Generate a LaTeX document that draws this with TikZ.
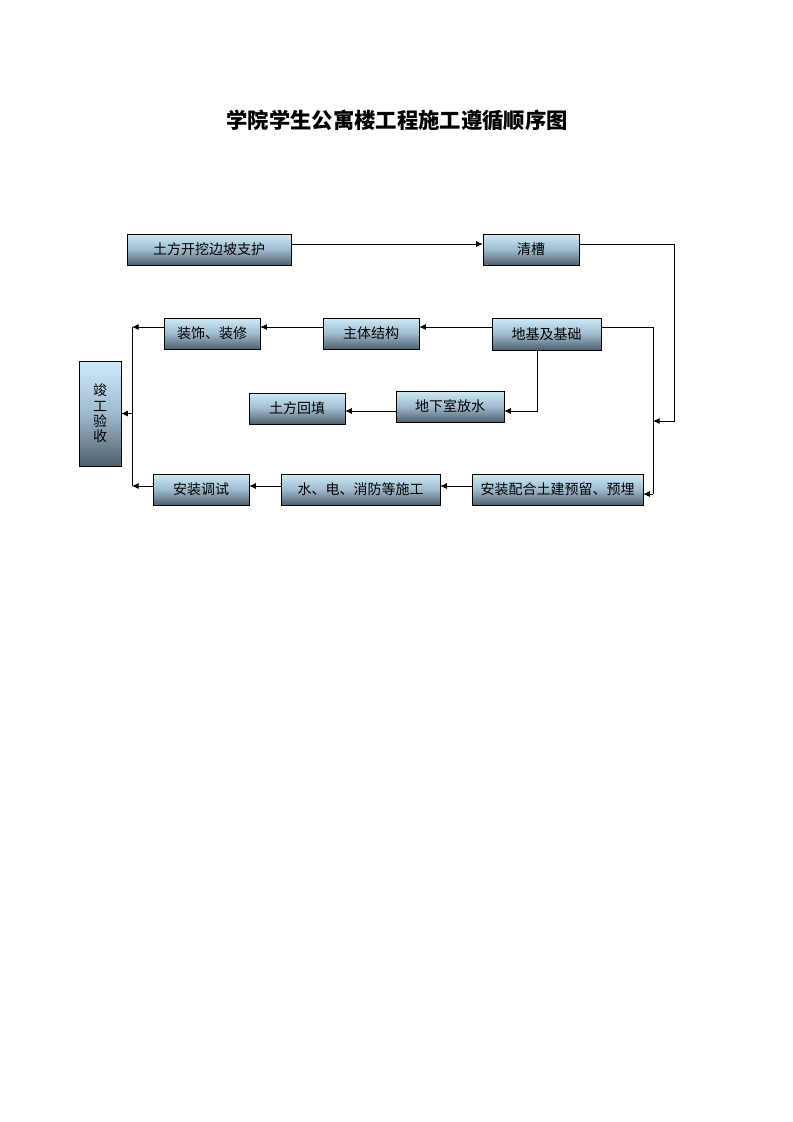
\documentclass[tikz,border=0pt]{standalone}
\usepackage{fontspec}
\setmainfont{Noto Sans CJK SC}
\usepackage{tikz}
\usetikzlibrary{positioning, arrows.meta}

\definecolor{boxtop}{RGB}{206,235,250}
\definecolor{boxmid}{RGB}{158,186,204}
\definecolor{boxbot}{RGB}{78,96,110}

\begin{document}
\begin{tikzpicture}[x = 0.75pt, y = -0.75pt,
		stage/.style = {draw, top color = boxtop, bottom color = boxbot, middle color = boxmid, minimum height = 23.25pt, inner sep = 0pt, font = \fontsize{10.5}{12}\selectfont},
		flow/.style = {-{Latex[length=5pt, width=4.5pt]}, line width = 0.6pt}]
	\useasboundingbox (0,0) rectangle (793,1122);

	\node (title) at (397,120) {\fontsize{16}{18}\selectfont\bfseries 学院学生公寓楼工程施工遵循顺序图};

	% first row
	\node [stage, minimum width = 123pt] (dig) at (209,249.5) {土方开挖边坡支护};
	\node [stage, minimum width = 72pt] (clean) at (531,249.5) {清槽};

	% second row
	\node [stage, minimum width = 72pt] (deco) at (212,333.5) {装饰、装修};
	\node [stage, minimum width = 72pt] (struct) at (371,333.5) {主体结构};
	\node [stage, minimum width = 81.75pt, minimum height = 24pt] (found) at (546.5,334) {地基及基础};

	% third row
	\node [stage, minimum width = 72pt] (backfill) at (297,408.5) {土方回填};
	\node [stage, minimum width = 81pt] (drain) at (450,406.5) {地下室放水};

	% fourth row
	\node [stage, minimum width = 72pt] (debug) at (201,489.5) {安装调试};
	\node [stage, minimum width = 119.25pt] (mep) at (360.5,489.5) {水、电、消防等施工};
	\node [stage, minimum width = 128.25pt] (embed) at (557.5,489.5) {安装配合土建预留、预埋};

	\node [stage, minimum width = 31.5pt, minimum height = 78.75pt, align = center, font = \fontsize{10.5}{11.5}\selectfont] (accept) at (100,413.5) {竣\\工\\验\\收};

	% line levels and buses
	\coordinate (row1) at (0,244);
	\coordinate (row2) at (0,327);
	\coordinate (row3) at (0,411);
	\coordinate (row4) at (0,486);
	\coordinate (busL) at (132,0);
	\coordinate (busA) at (653,0);
	\coordinate (busB) at (674,0);

	\draw [flow] (dig.east |- row1) -- (clean.west |- row1);
	\draw [flow] (clean.east |- row1) -- (busB |- row1) -- (busB |- 0,421) -- (busA |- 0,421);

	\draw [flow] (found.west |- row2) -- (struct.east |- row2);
	\draw [flow] (struct.west |- row2) -- (deco.east |- row2);
	\draw [flow] (deco.west |- row2) -- (busL |- row2);
	\draw (found.east |- row2) -- (busA |- row2) -- (busA |- 0,494);
	\draw [flow] (busA |- 0,494) -- (embed.east |- 0,494);

	\draw [flow] (537,0 |- found.south) -- (537,411) -- (drain.east |- row3);
	\draw [flow] (drain.west |- row3) -- (backfill.east |- row3);

	\draw [flow] (embed.west |- row4) -- (mep.east |- row4);
	\draw [flow] (mep.west |- row4) -- (debug.east |- row4);
	\draw [flow] (debug.west |- row4) -- (busL |- row4);
	\draw (busL |- row2) -- (busL |- row4);
	\draw [flow] (busL |- accept.east) -- (accept.east);
\end{tikzpicture}
\end{document}
